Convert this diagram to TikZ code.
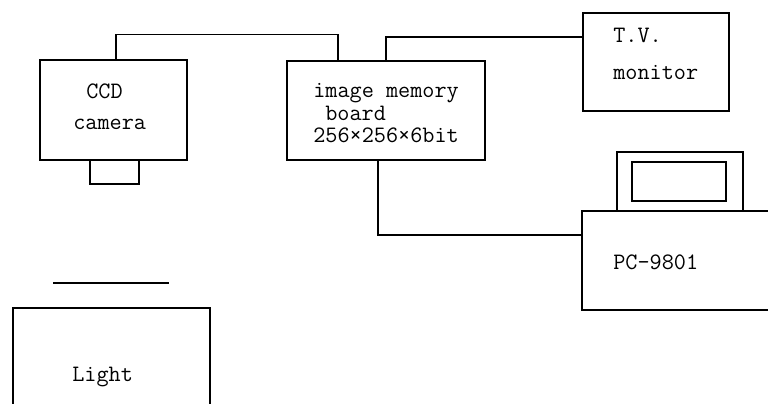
\documentclass[tikz,border=0pt]{standalone}
\usepackage{fontspec}
\begin{document}
\begin{tikzpicture}[
  x=0.02cm, y=-0.02cm,
  box/.style={draw, line width=0.8pt, inner sep=0pt},
  wire/.style={line width=0.8pt},
  txt/.style={font=\ttfamily\fontsize{13.4}{15}\selectfont, anchor=base west, inner sep=0pt}
]
  \useasboundingbox (0,0) rectangle (768,404);

  % Camera with lens
  \node[box, minimum width=2.94cm, minimum height=2cm] (camera) at (113.5,110) {};
  \node[box, minimum width=0.98cm, minimum height=0.48cm] (lens) at (114.5,172) {};

  % Image memory board
  \node[box, minimum width=3.96cm, minimum height=1.98cm] (board) at (386,110.5) {};

  % TV monitor
  \node[box, minimum width=2.92cm, minimum height=1.96cm] (tv) at (656,62) {};

  % Personal computer with display
  \node[box, minimum width=4.16cm, minimum height=1.98cm] (pc) at (686,260.5) {};
  \node[box, minimum width=2.52cm, minimum height=1.18cm] (screen) at (680,181.5) {};
  \node[box, minimum width=1.88cm, minimum height=0.78cm] (display) at (679,181.5) {};

  % Light source
  \node[box, minimum width=3.94cm, minimum height=2.44cm] (light) at (111.5,369) {};
  \draw[wire] (53,283) -- (169,283);

  % Texts
  \node[txt] (ccd1) at (86,99) {CCD};
  \node[txt] (ccd2) at (73,130) {camera};
  \node[txt] (mem1) at (313,98) {image memory};
  \node[txt] (mem2) at (325,121) {board};
  \node[txt] (mem3) at (313,143) {256×256×6bit};
  \node[txt] (tv1) at (613,43) {T.V.};
  \node[txt] (tv2) at (613,80) {monitor};
  \node[txt] (pc1) at (613,270) {PC-9801};
  \node[txt] (light1) at (72,382) {Light};

  % Wires
  \draw[wire] ([xshift=0.05cm]camera.north) -- ++(0,-25) -| ([xshift=-0.96cm]board.north);
  \draw[wire] (board.north) |- ([yshift=0.5cm]tv.west);
  \draw[wire] ([xshift=-0.16cm]board.south) |- ([yshift=0.51cm]pc.west);

\end{tikzpicture}
\end{document}
